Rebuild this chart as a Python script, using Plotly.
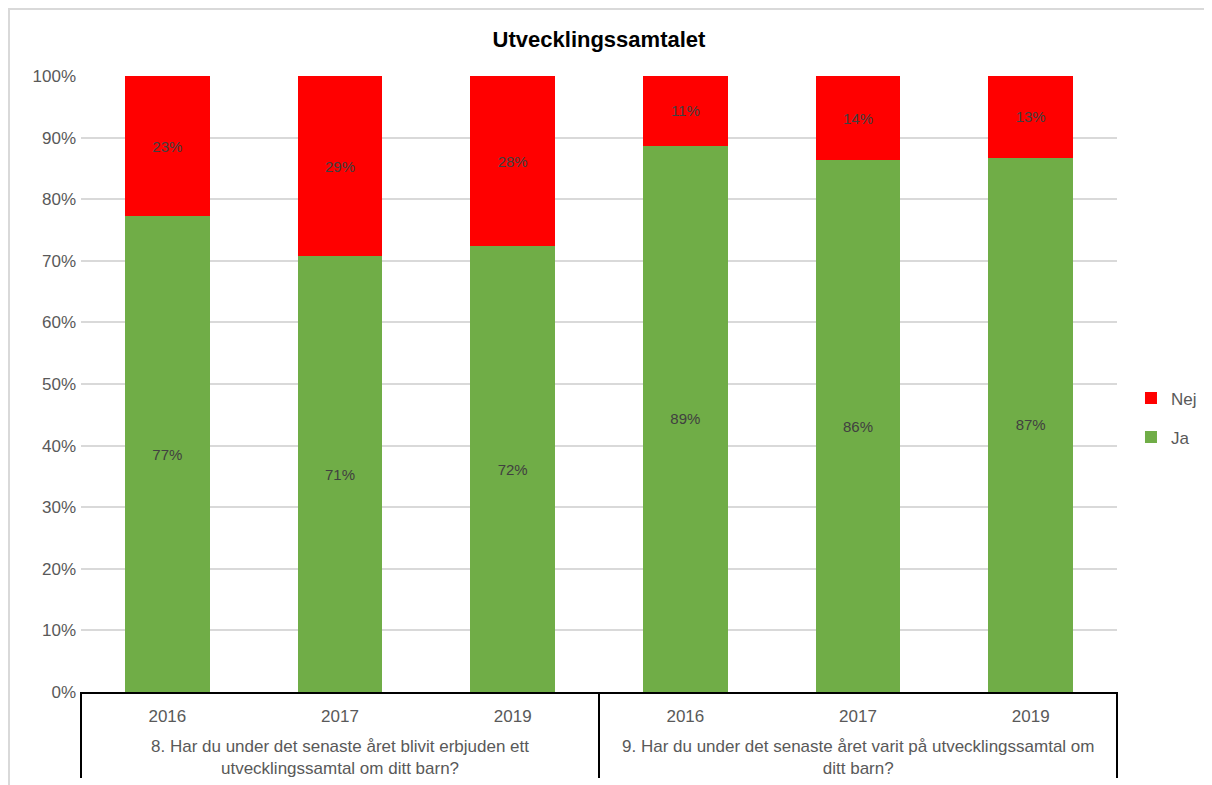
import plotly.graph_objects as go

# --- Data ---
questions = [
    "8. Har du under det senaste året blivit erbjuden ett<br>utvecklingssamtal om ditt barn?",
    "9. Har du under det senaste året varit på utvecklingssamtal om<br>ditt barn?",
]
question_keys = ["q8", "q9"]
years = ["2016", "2017", "2019"]
ja = [77.2, 70.7, 72.4, 88.7, 86.3, 86.7]
nej = [22.8, 29.3, 27.6, 11.3, 13.7, 13.3]
ja_labels = ["77%", "71%", "72%", "89%", "86%", "87%"]
nej_labels = ["23%", "29%", "28%", "11%", "14%", "13%"]
y_ticks = [0, 10, 20, 30, 40, 50, 60, 70, 80, 90, 100]

# unique category per bar, shown with year only
categories = [f"{k}|{y}" for k in question_keys for y in years]
cat_text = [y for _ in question_keys for y in years]

FONT = "Liberation Sans, Arial, sans-serif"
GREEN = "#70ad47"
RED = "#ff0000"

fig = go.Figure()
for name, vals, labels, color, rank in [
    ("Ja", ja, ja_labels, GREEN, 2),
    ("Nej", nej, nej_labels, RED, 1),
]:
    fig.add_trace(
        go.Bar(
            x=categories,
            y=vals,
            name=name,
            legendgroup=name,
            legendrank=rank,
            marker=dict(color=color, line=dict(width=0)),
            text=labels,
            textposition="inside",
            insidetextanchor="middle",
            textangle=0,
            constraintext="none",
            textfont=dict(family=FONT, size=15, color="#404040"),
            hoverinfo="skip",
        )
    )

# question labels under the year ticks
for key, q in zip(question_keys, questions):
    fig.add_annotation(
        x=f"{key}|{years[1]}", xref="x",
        y=-0.107, yref="paper",
        text=q, showarrow=False,
        xanchor="center", yanchor="middle",
        font=dict(family=FONT, size=17, color="#595959"),
    )

# box lines of the category axis
for xp in [0, 0.5, 1]:
    fig.add_shape(
        type="line", xref="paper", yref="paper",
        x0=xp, x1=xp, y0=0, y1=-0.1396,
        line=dict(color="#000000", width=2),
    )

# outer chart border
fig.add_shape(
    type="rect", xref="paper", yref="paper",
    x0=-0.0695, x1=1.2, y0=-0.3, y1=1.1088,
    line=dict(color="#d9d9d9", width=2),
)

fig.update_layout(
    barmode="stack",
    bargap=0.51,
    width=1212,
    height=785,
    paper_bgcolor="white",
    plot_bgcolor="white",
    margin=dict(l=73, r=103, t=68, b=101),
    font=dict(family=FONT, color="#595959", size=17),
    title=dict(
        text="<b>Utvecklingssamtalet</b>",
        x=0.5, xref="paper", xanchor="center",
        y=0.96, yanchor="middle", yref="container",
        font=dict(family=FONT, size=22, color="#000000"),
    ),
    legend=dict(
        x=1.0135, xanchor="left",
        y=0.445, yanchor="middle",
        tracegroupgap=14,
        font=dict(family=FONT, size=17, color="#595959"),
        itemwidth=30,
    ),
    xaxis=dict(
        type="category",
        tickvals=categories,
        ticktext=cat_text,
        showline=True, linecolor="#000000", linewidth=2,
        ticks="",
        ticklabelstandoff=8,
        tickfont=dict(family=FONT, size=17, color="#595959"),
        showgrid=False,
        fixedrange=True,
    ),
    yaxis=dict(
        range=[0, 100],
        tickvals=y_ticks,
        ticktext=[f"{v}%" for v in y_ticks],
        gridcolor="#d9d9d9", gridwidth=1.5,
        zeroline=False,
        ticks="",
        ticklabelstandoff=4,
        tickfont=dict(family=FONT, size=17, color="#595959"),
        fixedrange=True,
    ),
)

fig.write_html("out.html")
